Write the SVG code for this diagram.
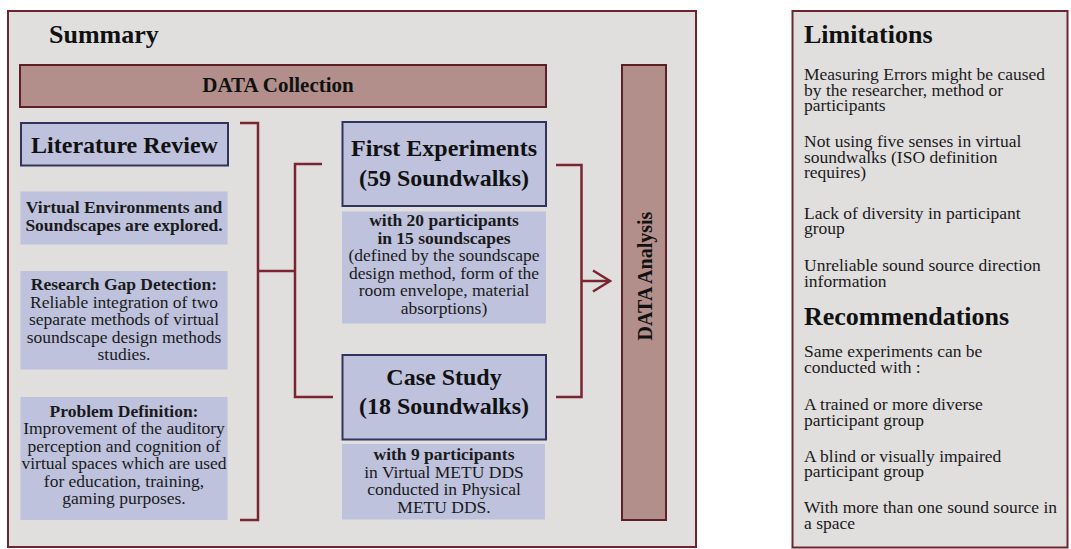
<svg xmlns="http://www.w3.org/2000/svg" width="1071" height="549" viewBox="0 0 1071 549">
  <defs>
    <style>
      .panel { fill: #e0dfde; stroke: #6b2630; stroke-width: 2; }
      .bar { fill: #b38f8b; stroke: #5e1f27; stroke-width: 2; }
      .head { fill: #bec2dd; stroke: #33335f; stroke-width: 2; }
      .note { fill: #bec2dd; stroke: none; }
      .link { fill: none; stroke: #7a2530; stroke-width: 2.5; }
      text { font-family: "Liberation Serif", "Times New Roman", serif; fill: #111; }
      .t-title { font-size: 26px; font-weight: bold; }
      .t-bar { font-size: 21px; font-weight: bold; text-anchor: middle; }
      .t-head { font-size: 24px; font-weight: bold; text-anchor: middle; }
      .t-note { font-size: 17.5px; text-anchor: middle; fill: #1a1a1a; }
      .b { font-weight: bold; }
      .t-side { font-size: 17.5px; fill: #1a1a1a; }
    </style>
    <marker id="chevron" viewBox="0 0 20 24" markerWidth="20" markerHeight="24" refX="18" refY="12" orient="auto" markerUnits="userSpaceOnUse">
      <polyline points="1,1.5 18,12 1,22.5" fill="none" stroke="#7a2530" stroke-width="2.5"/>
    </marker>
  </defs>

  <!-- summary panel -->
  <g id="summary">
    <rect class="panel" x="8" y="11" width="688" height="536"/>
    <text class="t-title" x="49" y="43">Summary</text>
  </g>

  <g id="data-collection">
    <rect class="bar" x="20" y="65" width="526" height="42"/>
    <text class="t-bar" x="278" y="92">DATA Collection</text>
  </g>

  <g id="data-analysis">
    <rect class="bar" x="622" y="65" width="44" height="455"/>
    <text class="t-bar" x="0" y="0" style="font-size:20px" transform="translate(651.5 276) rotate(-90)">DATA Analysis</text>
  </g>

  <g id="literature-review">
    <rect class="head" x="21" y="123" width="207" height="42.5"/>
    <text class="t-head" x="124.5" y="153">Literature Review</text>
  </g>

  <!-- multi-line notes: one text element per block, one tspan per line -->
  <g id="virtual-environments">
    <rect class="note" x="20.5" y="191.5" width="207" height="53"/>
    <text class="t-note b" y="213"><tspan x="124">Virtual Environments and</tspan><tspan x="124" dy="18">Soundscapes are explored.</tspan></text>
  </g>

  <g id="research-gap">
    <rect class="note" x="20.5" y="271" width="207" height="98.5"/>
    <text class="t-note" y="290"><tspan x="124" class="b">Research Gap Detection:</tspan><tspan x="124" dy="17.5">Reliable integration of two</tspan><tspan x="124" dy="17.5">separate methods of virtual</tspan><tspan x="124" dy="17.5">soundscape design methods</tspan><tspan x="124" dy="17.5">studies.</tspan></text>
  </g>

  <g id="problem-definition">
    <rect class="note" x="20.5" y="397" width="207" height="123"/>
    <text class="t-note" y="416.5"><tspan x="124" class="b">Problem Definition:</tspan><tspan x="124" dy="17.5">Improvement of the auditory</tspan><tspan x="124" dy="17.5">perception and cognition of</tspan><tspan x="124" dy="17.5">virtual spaces which are used</tspan><tspan x="124" dy="17.5">for education, training,</tspan><tspan x="124" dy="17.5">gaming purposes.</tspan></text>
  </g>

  <g id="first-experiments">
    <rect class="head" x="342.5" y="122" width="203.5" height="84"/>
    <text class="t-head" y="156"><tspan x="444">First Experiments</tspan><tspan x="444" dy="30">(59 Soundwalks)</tspan></text>
  </g>

  <g id="first-experiments-detail">
    <rect class="note" x="342" y="211.5" width="204" height="112"/>
    <text class="t-note" y="226"><tspan x="444" class="b">with 20 participants</tspan><tspan x="444" dy="17.5" class="b">in 15 soundscapes</tspan><tspan x="444" dy="17.5">(defined by the soundscape</tspan><tspan x="444" dy="17.5">design method, form of the</tspan><tspan x="444" dy="17.5">room envelope, material</tspan><tspan x="444" dy="17.5">absorptions)</tspan></text>
  </g>

  <g id="case-study">
    <rect class="head" x="342.5" y="355" width="203.5" height="84.5"/>
    <text class="t-head" y="385"><tspan x="444">Case Study</tspan><tspan x="444" dy="29">(18 Soundwalks)</tspan></text>
  </g>

  <g id="case-study-detail">
    <rect class="note" x="342" y="444" width="203" height="75.5"/>
    <text class="t-note" y="460"><tspan x="444" class="b">with 9 participants</tspan><tspan x="444" dy="17.5">in Virtual METU DDS</tspan><tspan x="444" dy="17.5">conducted in Physical</tspan><tspan x="444" dy="17.5">METU DDS.</tspan></text>
  </g>

  <!-- brackets and the arrow into the analysis bar -->
  <g id="connectors">
    <path class="link" d="M240,123 H258 V520 H240"/>
    <path class="link" d="M258,271 H295"/>
    <path class="link" d="M322,164 H295 V397 H333"/>
    <path class="link" d="M556,165 H581.5 V397 H556"/>
    <path class="link" d="M581.5,281 H610" marker-end="url(#chevron)"/>
  </g>

  <!-- limitations and recommendations panel -->
  <g id="limitations">
    <rect class="panel" x="792.5" y="11" width="275" height="536.5"/>
    <text class="t-title" x="804" y="43">Limitations</text>
    <text class="t-side" y="80"><tspan x="804">Measuring Errors might be caused</tspan><tspan x="804" dy="15.5">by the researcher, method or</tspan><tspan x="804" dy="15.5">participants</tspan></text>
    <text class="t-side" y="147"><tspan x="804">Not using five senses in virtual</tspan><tspan x="804" dy="15.5">soundwalks (ISO definition</tspan><tspan x="804" dy="15.5">requires)</tspan></text>
    <text class="t-side" y="218.5"><tspan x="804">Lack of diversity in participant</tspan><tspan x="804" dy="15.5">group</tspan></text>
    <text class="t-side" y="271"><tspan x="804">Unreliable sound source direction</tspan><tspan x="804" dy="15.5">information</tspan></text>
  </g>

  <g id="recommendations">
    <text class="t-title" x="804" y="325">Recommendations</text>
    <text class="t-side" y="357"><tspan x="804">Same experiments can be</tspan><tspan x="804" dy="15.5">conducted with :</tspan></text>
    <text class="t-side" y="410"><tspan x="804">A trained or more diverse</tspan><tspan x="804" dy="15.5">participant group</tspan></text>
    <text class="t-side" y="461.5"><tspan x="804">A blind or visually impaired</tspan><tspan x="804" dy="15.5">participant group</tspan></text>
    <text class="t-side" y="513"><tspan x="804">With more than one sound source in</tspan><tspan x="804" dy="15.5">a space</tspan></text>
  </g>
</svg>
